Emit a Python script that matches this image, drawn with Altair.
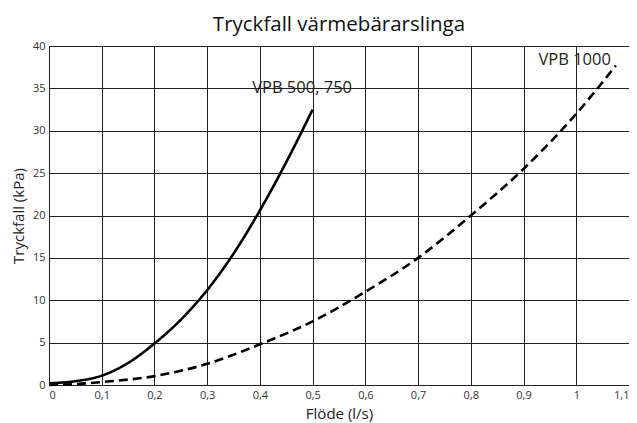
import altair as alt
import pandas as pd

# VPB 500, 750 (solid)
x_500 = [0.0, 0.05, 0.1, 0.15, 0.2, 0.25, 0.3, 0.35, 0.4, 0.45, 0.5]
y_500 = [0.2, 0.45, 1.1, 2.6, 4.9, 7.7, 11.2, 15.5, 20.6, 26.3, 32.5]
# VPB 1000 (dashed)
x_1000 = [0.0, 0.05, 0.1, 0.2, 0.3, 0.4, 0.5, 0.6, 0.7, 0.8, 0.9, 1.0, 1.075]
y_1000 = [0.0, 0.1, 0.35, 1.05, 2.5, 4.8, 7.5, 11.0, 15.0, 20.0, 25.5, 32.0, 37.7]

series_names = ["VPB 500, 750", "VPB 1000"]
label_text = ["VPB 500, 750", "VPB 1000"]
label_x = [0.48, 0.997]
label_y = [35.0, 38.4]

x_ticks = [round(i * 0.1, 1) for i in range(12)]
y_ticks = list(range(0, 41, 5))

rows = []
for xv, yv in zip(x_500, y_500):
    rows.append({"x": xv, "y": yv, "s": series_names[0]})
for xv, yv in zip(x_1000, y_1000):
    rows.append({"x": xv, "y": yv, "s": series_names[1]})
df = pd.DataFrame(rows)
lab = pd.DataFrame({"t": label_text, "x": label_x, "y": label_y})

FONT = "Open Sans"
label_expr = "replace(format(datum.value, '~g'), '.', ',')"

xs = alt.Scale(domain=[0, 1.1], nice=False, zero=False)
ys = alt.Scale(domain=[0, 40], nice=False)

lines = alt.Chart(df).mark_line(strokeWidth=2.6, color="black", interpolate="monotone").encode(
    x=alt.X("x:Q", scale=xs, title="Flöde (l/s)",
            axis=alt.Axis(values=x_ticks, labelExpr=label_expr, grid=True)),
    y=alt.Y("y:Q", scale=ys, title="Tryckfall (kPa)",
            axis=alt.Axis(values=y_ticks, grid=True)),
    strokeDash=alt.StrokeDash("s:N", scale=alt.Scale(domain=series_names, range=[[1, 0], [9, 5]]), legend=None),
    detail="s:N",
)

texts = alt.Chart(lab).mark_text(font=FONT, fontSize=16.5, color="#222", baseline="middle", align="center").encode(
    x=alt.X("x:Q", scale=xs),
    y=alt.Y("y:Q", scale=ys),
    text="t:N",
)

chart = alt.layer(lines, texts).properties(
    width=580,
    height=339,
    padding={"left": 41, "top": 38, "right": 0, "bottom": 37},
    autosize=alt.AutoSizeParams(type="none"),
    title=alt.Title("Tryckfall värmebärarslinga", font=FONT, fontSize=20.5, fontWeight="normal",
                    color="#111", offset=5, frame="group", anchor="middle"),
).configure_view(stroke="#777", strokeWidth=1).configure_axis(
    labelFont=FONT, labelFontSize=11, labelColor="#333",
    titleFont=FONT, titleFontSize=15, titleFontWeight="normal", titleColor="#222",
    gridColor="#222", gridOpacity=1, gridWidth=1,
    domainColor="#222", ticks=False, labelPadding=4,
).configure_axisX(titlePadding=6).configure_axisY(titlePadding=6)

chart.save("out.html", embed_options={"renderer": "svg", "actions": False})
